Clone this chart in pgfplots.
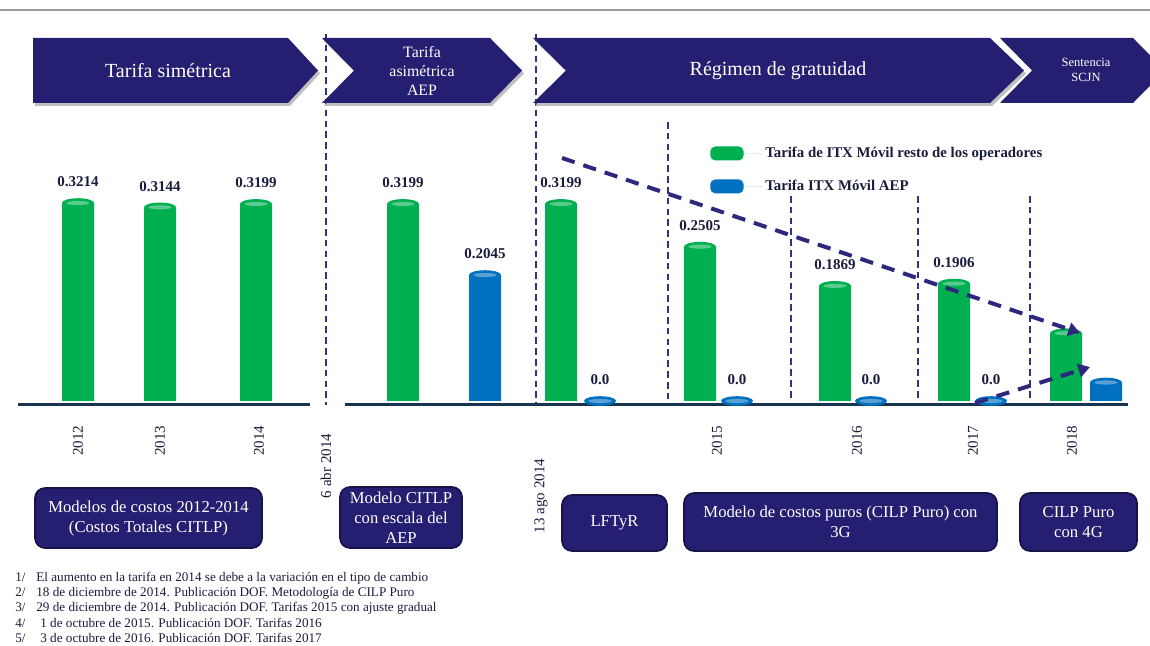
\documentclass[border=0pt]{standalone}
\usepackage{fontspec}
\setmainfont{Liberation Serif}
\usepackage{pgfplots}
\pgfplotsset{compat=1.18}
\usetikzlibrary{arrows.meta}
\definecolor{navy}{RGB}{36,31,112}
\definecolor{navyd}{RGB}{22,19,72}
\definecolor{gr}{RGB}{0,176,80}
\definecolor{bl}{RGB}{0,112,192}
\definecolor{dashc}{RGB}{52,48,130}
\definecolor{arrc}{RGB}{44,40,125}
\definecolor{basec}{RGB}{24,52,80}
\definecolor{txt}{RGB}{26,28,60}

\pgfdeclareplotmark{cyl}{%
  \pgfpathellipse{\pgfpointorigin}{\pgfqpoint{\pgfplotmarksize}{0pt}}{\pgfqpoint{0pt}{0.3\pgfplotmarksize}}%
  \pgfusepath{fill}%
  \begin{pgfscope}%
  \pgfsetfillcolor{white}\pgfsetfillopacity{0.35}%
  \pgfpathellipse{\pgfpointorigin}{\pgfqpoint{0.72\pgfplotmarksize}{0pt}}{\pgfqpoint{0pt}{0.13\pgfplotmarksize}}%
  \pgfusepath{fill}%
  \end{pgfscope}%
}

\newcommand{\rbox}[6]{%
  \draw[navyd, fill=navy, rounded corners=6pt, line width=1pt] (#1,#2) rectangle (#3,#4);
  \node[white, align=center, font=\fontsize{#6}{12}\selectfont] at ({(#1+#3)/2},{(#2+#4)/2}) {#5};}

\begin{document}
\begin{tikzpicture}
\path[use as bounding box] (0,0) rectangle (690pt,387.6pt);

% background decorations in pixel coordinates
\begin{scope}[shift={(0pt,387.6pt)}, x=0.6pt, y=-0.6pt]
  \draw[gray!80, line width=1pt] (0,10) -- (1150,10);
  % dashed separators
  \begin{scope}[dashc, line width=1pt, dash pattern=on 4pt off 2.5pt]
    \draw (326,34) -- (326,405);
    \draw (536,34) -- (536,405);
    \draw (668,122) -- (668,400);
    \draw (791,196) -- (791,400);
    \draw (918,196) -- (918,400);
    \draw (1030,196) -- (1030,400);
  \end{scope}
  % banners
  \fill[black!25] (35,41) -- (290,41) -- (320,73.5) -- (290,106) -- (35,106) -- cycle;
  \fill[black!25] (324,41) -- (492,41) -- (524,73.5) -- (492,106) -- (324,106) -- (356,73.5) -- cycle;
  \fill[black!25] (535,41) -- (992,41) -- (1026,73.5) -- (992,106) -- (535,106) -- (568,73.5) -- cycle;
  \fill[navy] (33,38) -- (288,38) -- (318,70.5) -- (288,103) -- (33,103) -- cycle;
  \fill[navy] (322,38) -- (490,38) -- (522,70.5) -- (490,103) -- (322,103) -- (354,70.5) -- cycle;
  \fill[navy] (533,38) -- (990,38) -- (1024,70.5) -- (990,103) -- (533,103) -- (566,70.5) -- cycle;
  \fill[navy] (1000,38) -- (1133,38) -- (1165,70.5) -- (1133,103) -- (1000,103) -- (1032,70.5) -- cycle;
  \node[white, font=\fontsize{12}{14}\selectfont] at (168,71) {Tarifa simétrica};
  \node[white, align=center, font=\fontsize{9.5}{11.5}\selectfont] at (422,71) {Tarifa\\asimétrica\\AEP};
  \node[white, font=\fontsize{12}{14}\selectfont] at (778,71) {Régimen de gratuidad};
  \node[white, align=center, font=\fontsize{7.5}{9}\selectfont] at (1086,70) {Sentencia\\SCJN};
  % baselines
  \draw[basec, line width=1.8pt] (18,405) -- (310,405);
  \draw[basec, line width=1.8pt] (345,405) -- (1128,405);
  % date labels
  \node[rotate=90, anchor=east, text=txt, font=\fontsize{9}{10}\selectfont] at (326,428) {6 abr 2014};
  \node[rotate=90, anchor=east, text=txt, font=\fontsize{9}{10}\selectfont] at (541,453) {13 ago 2014};
  % bottom boxes
  \rbox{35}{488}{262}{548}{Modelos de costos 2012-2014\\(Costos Totales CITLP)}{10}
  \rbox{340}{487}{462}{548}{Modelo CITLP\\con escala del\\AEP}{10}
  \rbox{562}{495}{667}{551}{LFTyR}{10}
  \rbox{684}{493}{997}{551}{Modelo de costos puros (CILP Puro) con\\3G}{10}
  \rbox{1020}{493}{1137}{551}{CILP Puro\\con 4G}{10}
  % footnotes
  \begin{scope}[every node/.style={anchor=west, inner sep=0pt, text=txt, font=\fontsize{7.9}{9}\selectfont}]
    \node at (15,578) {\makebox[12.6pt][l]{1/}El aumento en la tarifa en 2014 se debe a la variación en el tipo de cambio};
    \node at (15,593) {\makebox[12.6pt][l]{2/}18 de diciembre de 2014. Publicación DOF. Metodología de CILP Puro};
    \node at (15,608) {\makebox[12.6pt][l]{3/}29 de diciembre de 2014. Publicación DOF. Tarifas 2015 con ajuste gradual};
    \node at (15,623) {\makebox[12.6pt][l]{4/}\hspace{2.4pt}1 de octubre de 2015. Publicación DOF. Tarifas 2016};
    \node at (15,638) {\makebox[12.6pt][l]{5/}\hspace{2.4pt}3 de octubre de 2016. Publicación DOF. Tarifas 2017};
  \end{scope}
\end{scope}

\begin{axis}[
  at={(0pt,135.6pt)}, anchor=south west,
  scale only axis, width=690pt, height=234pt,
  xmin=0, xmax=1150, ymin=-0.03084, ymax=0.60227,
  clip=false,
  axis line style={draw=none},
  ytick=\empty,
  xtick={78,160,259,717,857,973,1072},
  xticklabels={2012,2013,2014,2015,2016,2017,2018},
  major tick length=0pt,
  xticklabel style={rotate=90, anchor=east, font=\fontsize{9}{10}\selectfont, text=txt},
  point meta=explicit symbolic,
  nodes near coords={\pgfplotspointmeta},
  nodes near coords style={anchor=south, yshift=6pt, font=\bfseries\fontsize{9}{10}\selectfont, text=txt},
  legend style={at={(0.613,0.718)}, anchor=north west, draw=none, fill=none,
    font=\bfseries\fontsize{8.9}{10}\selectfont, text=txt, row sep=8pt},
  legend cell align=left,
]
\addplot[ybar, bar width=32, bar shift=0pt, fill=gr, draw=none,
  mark=cyl, mark size=9.6pt, mark options={fill=gr, draw=none},
  legend image code/.code={\fill[gr, rounded corners=3pt] (0pt,-4.2pt) rectangle (20pt,4.2pt); \path (0pt,0pt) -- (31pt,0pt);}]
coordinates {
(78,0.3214) [0.3214]
(160,0.3144) [0.3144]
(256,0.3199) [0.3199]
(403,0.3199) [0.3199]
(561,0.3199) [0.3199]
(700,0.2505) [0.2505]
(835,0.1869) [0.1869]
(954,0.1906) [0.1906]
(1066,0.11) []
};
\addlegendentry{Tarifa de ITX Móvil resto de los operadores}
\addplot[ybar, bar width=32, bar shift=0pt, fill=bl, draw=none,
  mark=cyl, mark size=9.6pt, mark options={fill=bl, draw=none},
  legend image code/.code={\fill[bl, rounded corners=3pt] (0pt,-4.2pt) rectangle (20pt,4.2pt); \path (0pt,0pt) -- (31pt,0pt);}]
coordinates {
(485,0.2045) [0.2045]
(600,0.0) [0.0]
(737,0.0) [0.0]
(871,0.0) [0.0]
(991,0.0) [0.0]
(1106,0.03) []
};
\addlegendentry{Tarifa ITX Móvil AEP}
\end{axis}

% trend arrows
\begin{scope}[shift={(0pt,387.6pt)}, x=0.6pt, y=-0.6pt]
  \draw[arrc, line width=2.4pt, dash pattern=on 8pt off 5.5pt, -{Triangle[length=7pt,width=8pt]}] (562,158) -- (1080,333);
  \draw[arrc, line width=2.4pt, dash pattern=on 8pt off 5.5pt, -{Triangle[length=7pt,width=8pt]}] (975,403) -- (1090,367);
\end{scope}
\end{tikzpicture}
\end{document}
